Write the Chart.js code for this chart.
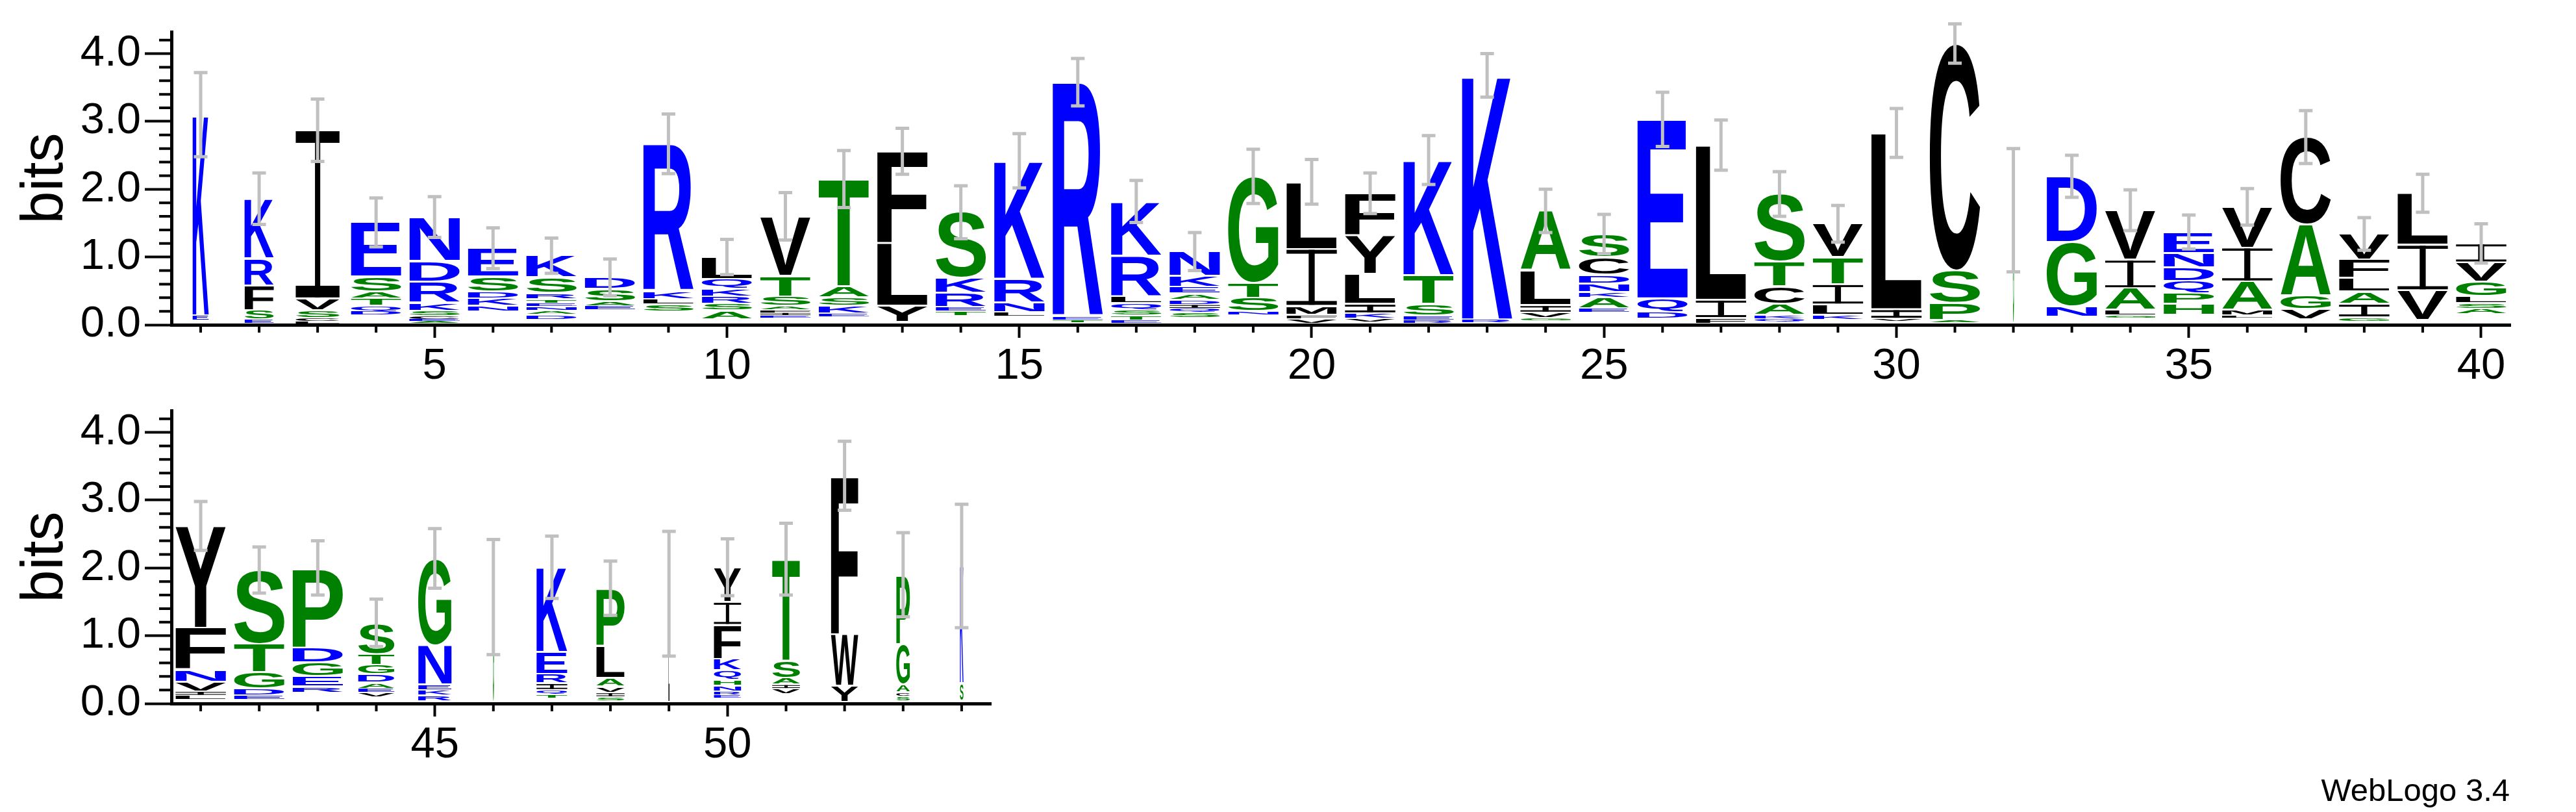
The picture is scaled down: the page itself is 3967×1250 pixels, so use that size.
<!DOCTYPE html>
<html>
<head>
<meta charset="utf-8">
<script src="https://cdn.jsdelivr.net/npm/chart.js@4.4.1/dist/chart.umd.min.js"></script>
<style>
  body { margin: 0; background: #fff; }
  #page { position: relative; width: 3967px; height: 1250px; overflow: hidden; background: #fff; }
  canvas { position: absolute; left: 0; }
  #row1 { top: 0; }
  #row2 { top: 583px; }
  #credit { position: absolute; right: 102px; top: 1192px; font: 49px "Liberation Sans", Arial, sans-serif; line-height: 1; color: #000; }
</style>
</head>
<body>
<div id="page">
  <canvas id="row1" width="3967" height="620"></canvas>
  <canvas id="row2" width="3967" height="620"></canvas>
  <div id="credit">WebLogo 3.4</div>
</div>
<script>
// sequence positions (x categories)
const positions = [1,2,3,4,5,6,7,8,9,10,11,12,13,14,15,16,17,18,19,20,
  21,22,23,24,25,26,27,28,29,30,31,32,33,34,35,36,37,38,39,40,
  41,42,43,44,45,46,47,48,49,50,51,52,53,54];

// letters in each stack, bottom to top ("-" = the tiny residues, not drawn)
const stackLetters = ["-EK","-ESFRK","-LCSVI","-DQTASE","-AECSKRDN","-NKDSE","-DANETRSK","-EASD","-SLKR","-ASRKQL",
  "-EIFASTV","-EKSAT","-YLF","-TERKS","-LNRK","-TER","-ETSQLRK","-SQIDAEKN","-NSTG","-VFMIL",
  "-VKILYF","-RESTK","-RK","-GVILA","-EAKNDCS","-DQE","-FIL","-QKACTS","-KLITV","-VIL",
  "-APSC","-G","-NGD","-GLAIV","-HPQDNE","-LMAIV","-VGAC","-GIALFV","-VIL","-ASLGVI",
  "-LIVNFY","-EDGTS","-REGDP","-VEADGTS","-RKENG","-G","-TQIREK","-SIVALP","-L","-ERNHQKFIY",
  "-VIAST","-YWF","-SCAGP","-SK"];

// bits for each letter, same order
const stackBits = [
  [.06,.08,2.96], [.02,.06,.14,.36,.40,.88], [.01,.04,.05,.12,.17,2.48], [.14,.06,.08,.11,.10,.22,.80],
  [.02,.03,.03,.05,.08,.12,.31,.30,.65], [.20,.08,.11,.10,.22,.42], [.08,.07,.06,.06,.05,.06,.09,.23,.32],
  [.22,.06,.07,.18,.17], [.20,.10,.08,.12,2.17], [.08,.13,.10,.11,.11,.15,.32],
  [.10,.04,.04,.04,.06,.14,.30,.88], [.12,.05,.11,.13,.16,1.58], [.04,.24,.92,1.36], [.13,.07,.06,.21,.22,.97],
  [.12,.07,.14,.35,1.74], [.03,.04,.05,3.46], [.02,.05,.07,.08,.10,.10,.60,.80], [.10,.08,.06,.06,.07,.09,.10,.16,.36],
  [.14,.06,.20,.22,1.57], [.02,.07,.06,.13,.84,.99], [.04,.05,.08,.14,.44,.57,.62], [.02,.05,.07,.17,.42,1.70],
  [.03,.05,3.60], [.06,.04,.08,.11,.51,.88], [.18,.06,.16,.08,.13,.13,.26,.34], [.09,.10,.20,2.64],
  [.02,.08,.27,2.28], [.05,.04,.06,.16,.26,.36,1.00], [.08,.07,.15,.30,.40,.49], [.05,.04,.14,2.60],
  [.03,.04,.25,.48,3.35], [.02,1.67], [.12,.15,.95,.97], [.10,.04,.08,.32,.42,.73],
  [.15,.16,.16,.18,.20,.21,.31], [.10,.04,.08,.42,.50,.60], [.08,.15,.20,1.05,1.29], [.05,.06,.20,.18,.20,.27,.38],
  [.07,.44,.67,.76], [.16,.08,.08,.10,.22,.28,.28], [.06,.06,.06,.14,.18,.62,1.50], [.06,.06,.10,.24,.42,1.09],
  [.16,.09,.15,.21,.22,1.17], [.10,.06,.06,.09,.12,.14,.16,.46], [.04,.08,.08,.08,.58,1.28], [.02,1.55],
  [.08,.06,.06,.10,.14,.32,1.25], [.04,.06,.06,.09,.13,.47,.85], [.02,1.60], [.08,.05,.05,.09,.08,.14,.17,.50,.34,.51],
  [.14,.08,.06,.10,.25,1.50], [.02,.24,.76,2.34], [.04,.07,.06,.11,.60,1.02], [.04,.26,1.73]
];

// error bar half-lengths (bits)
const errorBits = [.62,.38,.46,.36,.30,.30,.26,.27,.44,.26,.35,.42,.34,.39,.40,.35,.31,.28,.40,.33,
  .30,.36,.32,.32,.29,.40,.37,.33,.27,.36,.29,.91,.31,.30,.25,.27,.39,.24,.28,.29,
  .36,.34,.40,.35,.44,.85,.46,.40,.92,.42,.53,.51,.62,.91];

// stack width (fraction of non-gap sequences)
const stackWidth = [.32,.58,.87,1,1,1,1,1,1,1,1,1,1,1,1,1,1,1,1,1,
  1,1,1,1,1,1,1,1,1,1,1,.02,1,1,1,1,1,1,1,1,
  1,1,1,.72,.66,.02,.61,.56,.02,.54,.55,.54,.27,.07];

const yMinorTicks = [0.2,0.4,0.6,0.8,1.2,1.4,1.6,1.8,2.2,2.4,2.6,2.8,3.2,3.4,3.6,3.8,4.2];
const yMax = 4.3219;

const FONT = '"Liberation Sans", Arial, Helvetica, sans-serif';

function letterColor(ch) {
  if ('RKDENQ'.includes(ch)) return '#0000ff';
  if ('SGHTAP'.includes(ch)) return '#008000';
  return '#000000';
}

function drawGlyph(ctx, ch, x, y, w, h) {
  const gap = Math.min(1.5, h * 0.15);
  y += gap; h -= 2 * gap;
  if (h < 0.7) h = 0.7;
  ctx.save();
  ctx.fillStyle = letterColor(ch);
  if (ch === 'I') {
    const bar = Math.max(h * 0.07, Math.min(3, h * 0.25));
    const stem = Math.max(1, w * 0.12);
    ctx.fillRect(x, y, w, bar);
    ctx.fillRect(x, y + h - bar, w, bar);
    ctx.fillRect(x + w / 2 - stem / 2, y, stem, h);
  } else {
    ctx.font = 'bold 200px ' + FONT;
    ctx.textAlign = 'left';
    ctx.textBaseline = 'alphabetic';
    const m = ctx.measureText(ch);
    const bw = m.actualBoundingBoxLeft + m.actualBoundingBoxRight;
    const bh = m.actualBoundingBoxAscent + m.actualBoundingBoxDescent;
    ctx.translate(x, y);
    ctx.scale(w / bw, h / bh);
    ctx.fillText(ch, m.actualBoundingBoxLeft, m.actualBoundingBoxAscent);
  }
  ctx.restore();
}

const logoPlugin = {
  id: 'logo',
  afterDatasetsDraw(chart, args, opts) {
    const ctx = chart.ctx;
    const from = opts.from;
    const nLayers = chart.data.datasets.length;
    for (let k = 0; k < nLayers; k++) {
      const meta = chart.getDatasetMeta(k);
      meta.data.forEach((bar, j) => {
        const i = from + j;
        const ch = stackLetters[i][k];
        if (!ch || ch === '-') return;
        const w = bar.width * stackWidth[i];
        drawGlyph(ctx, ch, bar.x - w / 2, bar.y, w, bar.base - bar.y);
      });
    }
    // error bars
    const ys = chart.scales.y;
    const top = chart.getDatasetMeta(nLayers - 1);
    ctx.save();
    ctx.strokeStyle = '#c0c0c0';
    ctx.lineWidth = 5;
    top.data.forEach((bar, j) => {
      const i = from + j;
      const total = stackBits[i].reduce((a, b) => a + b, 0);
      const y1 = ys.getPixelForValue(total + errorBits[i]);
      const y2 = ys.getPixelForValue(total - errorBits[i]);
      ctx.beginPath();
      ctx.moveTo(bar.x, y1); ctx.lineTo(bar.x, y2);
      ctx.moveTo(bar.x - 10.5, y1); ctx.lineTo(bar.x + 10.5, y1);
      ctx.moveTo(bar.x - 10.5, y2); ctx.lineTo(bar.x + 10.5, y2);
      ctx.stroke();
    });
    ctx.restore();
  },
  afterDraw(chart) {
    const ctx = chart.ctx;
    const xs = chart.scales.x, ys = chart.scales.y;
    ctx.save();
    ctx.strokeStyle = '#000';
    ctx.lineWidth = 4;
    ctx.beginPath();
    yMinorTicks.forEach(v => {
      const py = ys.getPixelForValue(v);
      ctx.moveTo(ys.right - 19, py); ctx.lineTo(ys.right, py);
    });
    chart.data.labels.forEach((lab, j) => {
      if (lab % 5 === 0) return;
      const px = xs.getPixelForValue(j);
      ctx.moveTo(px, xs.top); ctx.lineTo(px, xs.top + 12);
    });
    ctx.stroke();
    ctx.restore();
  }
};

function makeRow(canvasId, from, to, plotRight) {
  const labels = positions.slice(from, to);
  const nLayers = Math.max(...stackLetters.slice(from, to).map(s => s.length));
  const datasets = [];
  for (let k = 0; k < nLayers; k++) {
    datasets.push({
      data: stackBits.slice(from, to).map(b => b[k] || 0),
      backgroundColor: 'rgba(0,0,0,0)',
      borderWidth: 0,
      barPercentage: 0.86,
      categoryPercentage: 1.0
    });
  }
  const canvas = document.getElementById(canvasId);
  new Chart(canvas, {
    type: 'bar',
    data: { labels: labels, datasets: datasets },
    options: {
      responsive: false,
      animation: false,
      devicePixelRatio: 1,
      layout: { padding: { top: 49, right: canvas.width - plotRight, left: 0, bottom: 0 } },
      plugins: { legend: { display: false }, tooltip: { enabled: false }, logo: { from: from } },
      scales: {
        x: {
          stacked: true,
          grid: {
            offset: false, drawOnChartArea: false, tickLength: 20, tickWidth: 4,
            tickColor: c => (labels[c.index] % 5 === 0 ? '#000' : 'rgba(0,0,0,0)')
          },
          border: { display: true, width: 5, color: '#000' },
          ticks: {
            autoSkip: false, maxRotation: 0, minRotation: 0, padding: 4,
            color: '#000', font: { family: FONT, size: 67 },
            callback: (v, i) => (labels[i] % 5 === 0 ? String(labels[i]) : '')
          },
          afterFit: s => { s.height = 120; }
        },
        y: {
          stacked: true,
          min: 0, max: yMax,
          grid: { drawOnChartArea: false, tickLength: 41, tickWidth: 4, tickColor: '#000' },
          border: { display: true, width: 5, color: '#000' },
          ticks: {
            stepSize: 1, includeBounds: false, padding: 6,
            color: '#000', font: { family: FONT, size: 67 },
            callback: v => v.toFixed(1)
          },
          title: { display: true, text: 'bits', color: '#000', font: { family: FONT, size: 90 }, padding: { top: 17, bottom: 0 } },
          afterFit: s => { s.width = 264; }
        }
      }
    },
    plugins: [logoPlugin]
  });
}

makeRow('row1', 0, 40, 3866);
makeRow('row2', 40, 54, 1526);
</script>
</body>
</html>
